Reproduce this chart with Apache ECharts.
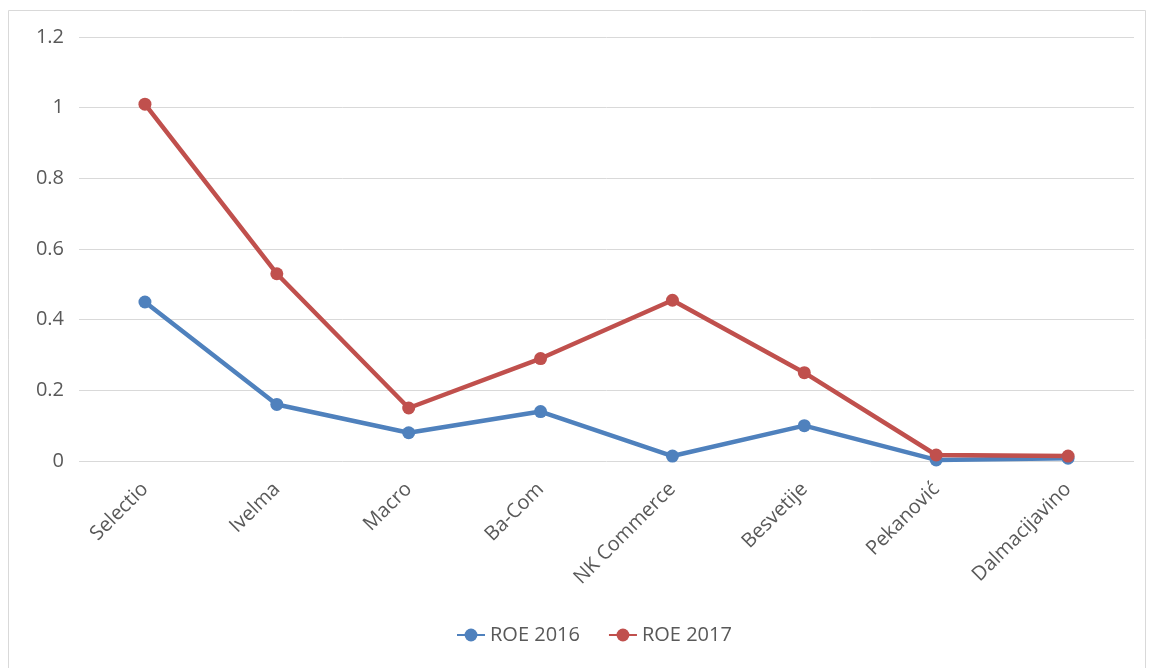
<!DOCTYPE html>
<html><head><meta charset="utf-8">
<script src="https://cdn.jsdelivr.net/npm/echarts@6/dist/echarts.min.js"></script>
<style>html,body{margin:0;padding:0;background:#fff}#c{width:1150px;height:668px}</style>
</head><body><div id="c"></div>
<script>
var categories = ['Selectio','Ivelma','Macro','Ba-Com','NK Commerce','Besvetije','Pekanović','Dalmacijavino'];
var roe2016 = [0.45, 0.16, 0.08, 0.14, 0.014, 0.10, 0.003, 0.008];
var roe2017 = [1.01, 0.53, 0.15, 0.29, 0.455, 0.25, 0.017, 0.014];
var yTicks = [0, 0.2, 0.4, 0.6, 0.8, 1, 1.2];

var chart = echarts.init(document.getElementById('c'));
var font = '"Open Sans", "DejaVu Sans", sans-serif';
chart.setOption({
  animation: false,
  color: ['#4F81BD', '#C0504D'],
  graphic: [{
    type: 'rect', shape: {x: 8.5, y: 10.5, width: 1137, height: 680},
    style: {fill: 'none', stroke: '#d9d9d9', lineWidth: 1}, silent: true
  }],
  grid: {left: 79, right: 16, top: 37, bottom: 207, containLabel: false},
  legend: {
    bottom: 18, left: 451, itemWidth: 28, itemHeight: 16, itemGap: 28,
    textStyle: {color: '#595959', fontSize: 20, fontFamily: font},
    data: ['ROE 2016', 'ROE 2017']
  },
  xAxis: {
    type: 'category', data: categories, boundaryGap: true,
    axisLine: {show: false}, axisTick: {show: false},
    axisLabel: {rotate: 45, color: '#595959', fontSize: 20, fontFamily: font, margin: 25, interval: 0}
  },
  yAxis: {
    type: 'value', min: 0, max: yTicks[yTicks.length-1], interval: 0.2,
    axisLine: {show: false}, axisTick: {show: false},
    axisLabel: {color: '#595959', fontSize: 20, fontFamily: font, margin: 15,
      formatter: function (v) { return String(Math.round(v * 10) / 10); }},
    splitLine: {lineStyle: {color: '#d9d9d9', width: 1}}
  },
  series: [
    {name: 'ROE 2016', type: 'line', data: roe2016, symbol: 'circle', symbolSize: 13,
     lineStyle: {width: 4.5}, itemStyle: {color: '#4F81BD'}},
    {name: 'ROE 2017', type: 'line', data: roe2017, symbol: 'circle', symbolSize: 13,
     lineStyle: {width: 4.5}, itemStyle: {color: '#C0504D'}}
  ]
});
</script></body></html>
